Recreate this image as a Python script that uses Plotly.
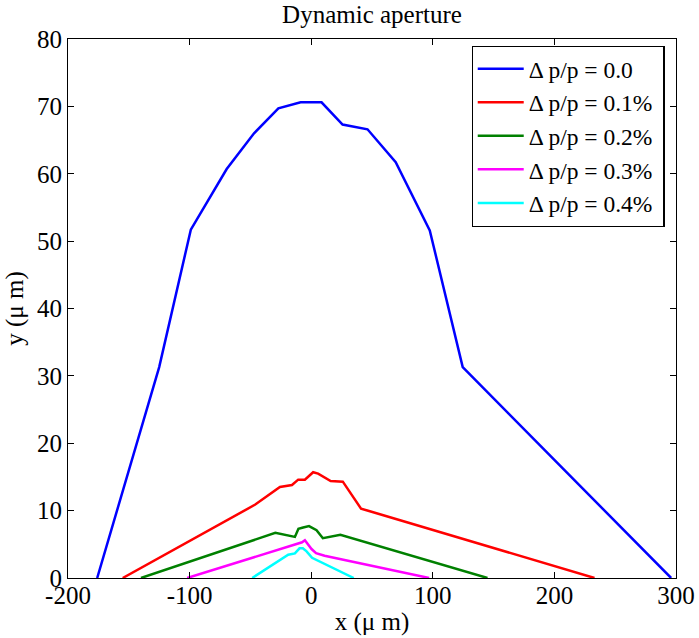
import plotly.graph_objects as go

blue_x = [-176, -125, -99, -69.5, -47, -27, -8.7, 8.5, 25.8, 46.3, 69.5, 97.5, 124.6, 296]
blue_y = [0, 31.3, 51.7, 60.7, 66.0, 69.7, 70.6, 70.6, 67.3, 66.6, 61.7, 51.6, 31.3, 0]

red_x = [-155, -46, -25.7, -15.8, -10.7, -5.2, 1.6, 5.7, 16, 26, 41, 233]
red_y = [0, 10.9, 13.5, 13.8, 14.6, 14.6, 15.7, 15.5, 14.4, 14.3, 10.3, 0]

green_x = [-140, -29.5, -13.4, -10.5, -6.6, -1.8, 4.4, 9.6, 24, 145]
green_y = [0, 6.7, 6.1, 7.3, 7.5, 7.7, 7.1, 5.9, 6.4, 0]

magenta_x = [-102, -7.5, -5.2, 0.3, 4, 11, 97]
magenta_y = [0, 5.3, 5.6, 4.3, 3.7, 3.3, 0]

cyan_x = [-48.5, -18.9, -13.4, -9.6, -6.9, -3.8, 0.7, 35]
cyan_y = [0, 3.45, 3.65, 4.4, 4.4, 3.95, 3.0, 0]

names = ["Δ p/p = 0.0", "Δ p/p = 0.1%", "Δ p/p = 0.2%", "Δ p/p = 0.3%", "Δ p/p = 0.4%"]
colors = ["#0000FF", "#FF0000", "#008000", "#FF00FF", "#00FFFF"]
series = [(blue_x, blue_y), (red_x, red_y), (green_x, green_y), (magenta_x, magenta_y), (cyan_x, cyan_y)]

x_ticks = [-200, -100, 0, 100, 200, 300]
y_ticks = [0, 10, 20, 30, 40, 50, 60, 70, 80]

FONT = "Liberation Serif, Times New Roman, serif"
PAD = "\u00a0"

fig = go.Figure()
for (xs, ys), n, c in zip(series, names, colors):
    fig.add_trace(go.Scatter(x=xs, y=ys, mode="lines", name=n + PAD,
                             line=dict(color=c, width=2.5)))

axis_common = dict(showline=True, linecolor="black", linewidth=1.2, mirror="ticks",
                   ticks="inside", ticklen=6, tickcolor="black", tickwidth=1,
                   showgrid=False, zeroline=False, automargin=False,
                   tickfont=dict(family=FONT, size=25, color="black"))

fig.update_layout(
    width=699, height=638,
    margin=dict(l=67.5, r=22.5, t=39.3, b=60.3),
    paper_bgcolor="white", plot_bgcolor="white",
    font=dict(family=FONT, size=25, color="black"),
    title=dict(text="Dynamic aperture", x=0.5, xref="paper", xanchor="center",
               y=1 - 14 / 638, yref="container", yanchor="middle",
               font=dict(family=FONT, size=25, color="black")),
    xaxis=dict(range=[-200, 300], tickvals=x_ticks, ticktext=[str(v) for v in x_ticks],
               ticklabelstandoff=-5,
               title=dict(text="x (μ m)", standoff=4, font=dict(family=FONT, size=25)),
               **axis_common),
    yaxis=dict(range=[0, 80], tickvals=y_ticks, ticktext=[str(v) for v in y_ticks],
               title=dict(text="y (μ m)", standoff=6, font=dict(family=FONT, size=25)),
               **axis_common),
    legend=dict(x=0.6637, y=0.9875, xanchor="left", yanchor="top",
                bordercolor="black", borderwidth=1.2, bgcolor="white",
                itemwidth=46,
                font=dict(family=FONT, size=23.5, color="black")),
)

fig.write_html("out.html")
